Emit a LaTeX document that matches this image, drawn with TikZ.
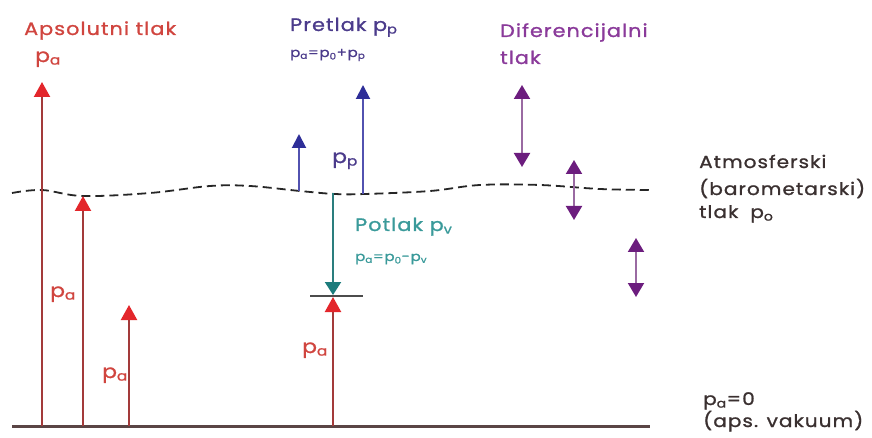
\documentclass[tikz,border=0pt]{standalone}
\usepackage{fontspec}
\setmainfont{Poppins}[FakeStretch=1.15,LetterSpace=6,FakeBold=1.2]
\usetikzlibrary{arrows.meta}
\definecolor{redline}{HTML}{A33A3A}
\definecolor{redhead}{HTML}{E3262B}
\definecolor{redtext}{HTML}{D0453F}
\definecolor{blueline}{HTML}{5252B0}
\definecolor{bluehead}{HTML}{2E2E98}
\definecolor{bluetext}{HTML}{4B3B8B}
\definecolor{purpline}{HTML}{9A6AA2}
\definecolor{purphead}{HTML}{6C1D7E}
\definecolor{purptext}{HTML}{8A3A9A}
\definecolor{tealline}{HTML}{2A7E7E}
\definecolor{tealhead}{HTML}{1C7C7C}
\definecolor{tealtext}{HTML}{3A9A9A}
\definecolor{darktext}{HTML}{3A3030}
\definecolor{groundcol}{HTML}{5A4545}
\begin{document}
\begin{tikzpicture}[x=1pt,y=-1pt,
  big/.style={anchor=base west,inner sep=0pt,font=\fontsize{18}{20}\selectfont},
  side/.style={anchor=base west,inner sep=0pt,font=\fontsize{17.4}{20}\selectfont,text=darktext},
  lab/.style={anchor=base west,inner sep=0pt,font=\fontsize{19}{20}\selectfont},
  small/.style={anchor=base west,inner sep=0pt,font=\fontsize{13}{15}\selectfont},
  redarr/.style={draw=redline,line width=2.2pt,-{Triangle[width=16pt,length=15pt,color=redhead]}},
  bluearr/.style={draw=blueline,line width=2pt,-{Triangle[width=14pt,length=14pt,color=bluehead]}},
  purparr/.style={draw=purpline,line width=2pt,{Triangle[width=16pt,length=14pt,color=purphead]}-{Triangle[width=16pt,length=14pt,color=purphead]}},
  tealarr/.style={draw=tealline,line width=2pt,-{Triangle[width=16pt,length=13pt,color=tealhead]}},
  atmline/.style={draw=black!85,line width=1.8pt,dash pattern=on 9pt off 5pt},
  groundline/.style={draw=groundcol,line width=3pt},
  tickline/.style={draw=black!70,line width=1.4pt}]
\useasboundingbox (0,0) rectangle (872,438);

% ground and atmospheric line
\coordinate (g1) at (12,426);
\coordinate (g2) at (650,426);
\draw[groundline] (g1) -- (g2);
\draw[atmline] plot[smooth,tension=0.6] coordinates {(12,193) (42,190) (83,196) (150,193) (210,186) (250,186) (300,191) (335,194) (365,194) (430,191) (480,185) (540,185) (600,189) (650,190)};

% red absolute arrows
\coordinate (r1b) at (42,426);  \coordinate (r1t) at (42,82);
\coordinate (r2b) at (83,426);  \coordinate (r2t) at (83,196);
\coordinate (r3b) at (129,426); \coordinate (r3t) at (129,305);
\coordinate (r4b) at (333,426); \coordinate (r4t) at (333,297);
\draw[redarr] (r1b) -- (r1t);
\draw[redarr] (r2b) -- (r2t);
\draw[redarr] (r3b) -- (r3t);
\draw[redarr] (r4b) -- (r4t);

% teal vacuum arrow and tick
\coordinate (tv1) at (333,193); \coordinate (tv2) at (333,295);
\draw[tealarr] (tv1) -- (tv2);
\coordinate (tk1) at (310,296); \coordinate (tk2) at (363,296);
\draw[tickline] (tk1) -- (tk2);

% blue overpressure arrows
\coordinate (b1b) at (299,191); \coordinate (b1t) at (299,134);
\coordinate (b2b) at (363,194); \coordinate (b2t) at (363,85);
\draw[bluearr] (b1b) -- (b1t);
\draw[bluearr] (b2b) -- (b2t);

% purple differential arrows
\coordinate (d1a) at (522,85);  \coordinate (d1b) at (522,167);
\coordinate (d2a) at (574,160); \coordinate (d2b) at (574,220);
\coordinate (d3a) at (636,238); \coordinate (d3b) at (636,297);
\draw[purparr] (d1a) -- (d1b);
\draw[purparr] (d2a) -- (d2b);
\draw[purparr] (d3a) -- (d3b);

% texts
\node[big,text=redtext] (absT) at (24,35) {Apsolutni tlak};
\node[lab,text=redtext] (absP) at (35,62) {p\textsubscript{a}};
\node[lab,text=redtext] (pa1) at (50,297) {p\textsubscript{a}};
\node[lab,text=redtext] (pa2) at (102,378) {p\textsubscript{a}};
\node[lab,text=redtext] (pa3) at (302,353) {p\textsubscript{a}};

\node[big,text=bluetext] (preT) at (290,31) {Pretlak p\textsubscript{p}};
\node[small,text=bluetext] (preF) at (290,57) {p\textsubscript{a}=p\textsubscript{0}+p\textsubscript{p}};
\node[lab,text=bluetext] (ppL) at (332,163) {p\textsubscript{p}};

\node[big,text=purptext] (difT1) at (500,37) {Diferencijalni};
\node[big,text=purptext] (difT2) at (500,64) {tlak};

\node[big,text=tealtext] (potT) at (355,231) {Potlak p\textsubscript{v}};
\node[small,text=tealtext] (potF) at (355,261) {p\textsubscript{a}=p\textsubscript{0}-p\textsubscript{v}};

\node[side] (atm1) at (699,168) {Atmosferski};
\node[side] (atm2) at (699,195) {(barometarski)};
\node[side] (atm3) at (699,218) {tlak\hspace{12pt}p\textsubscript{o}};

\node[side] (vac1) at (703,405) {p\textsubscript{a}=0};
\node[side] (vac2) at (703,427) {(aps. vakuum)};
\end{tikzpicture}
\end{document}
